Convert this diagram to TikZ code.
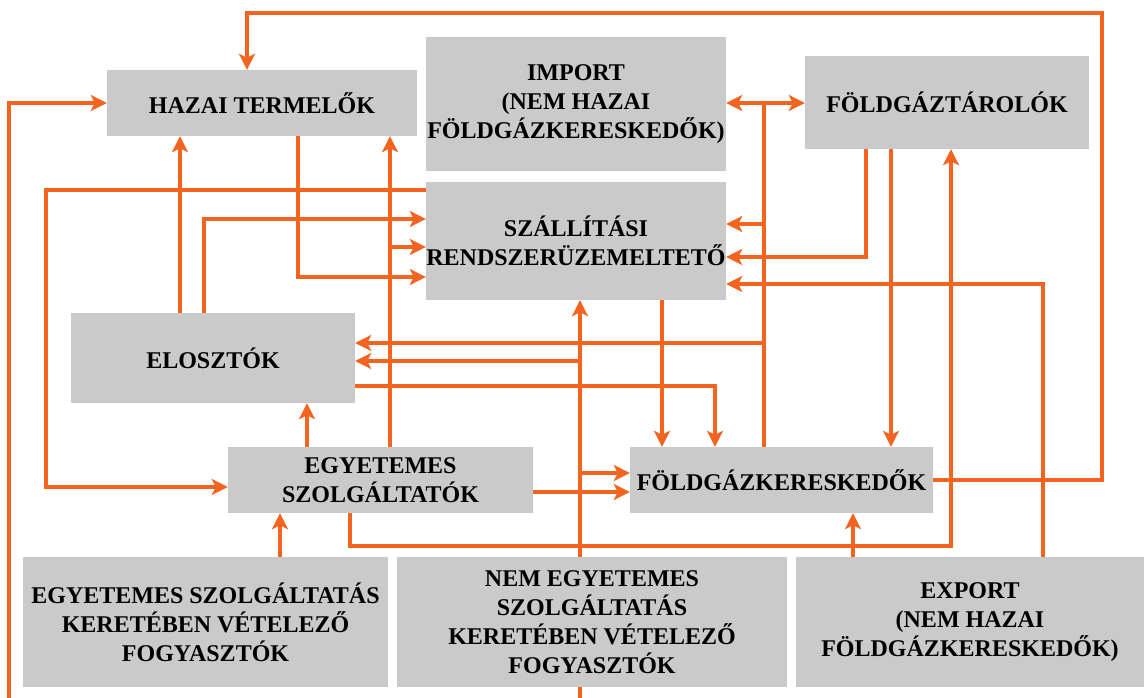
\documentclass[tikz,border=0pt]{standalone}
\usepackage{fontspec}
\setmainfont{Liberation Serif}
\usetikzlibrary{arrows.meta,backgrounds}
\definecolor{flow}{RGB}{242,100,32}
\definecolor{boxgray}{RGB}{202,202,202}
\tikzset{
  box/.style={fill=boxgray, draw=none, inner sep=0pt, align=center,
    font=\fontsize{24}{29}\selectfont\bfseries},
  conn/.style={draw=flow, line width=4pt},
  arr/.style={conn, -{Stealth[length=16pt,width=16pt,inset=4pt]}},
  darr/.style={conn, {Stealth[length=16pt,width=16pt,inset=4pt]}-{Stealth[length=16pt,width=16pt,inset=4pt]}}
}
\begin{document}
\begin{tikzpicture}[x=1pt,y=-1pt]
\useasboundingbox (0,0) rectangle (1146,698);
% boxes
\node[box, minimum width=310pt, minimum height=66pt] (hazai) at (262,103) {HAZAI TERMELŐK};
\node[box, minimum width=300pt, minimum height=134pt] (import) at (576,104) {IMPORT\\(NEM HAZAI\\FÖLDGÁZKERESKEDŐK)};
\node[box, minimum width=300pt, minimum height=118pt] (szall) at (576,241) {SZÁLLÍTÁSI\\RENDSZERÜZEMELTETŐ};
\node[box, minimum width=284pt, minimum height=93pt] (taro) at (947,102.5) {FÖLDGÁZTÁROLÓK};
\node[box, minimum width=284pt, minimum height=90pt] (elosz) at (213,358) {ELOSZTÓK};
\node[box, minimum width=305pt, minimum height=66pt] (egysz) at (380.5,480) {EGYETEMES\\SZOLGÁLTATÓK};
\node[box, minimum width=303pt, minimum height=66pt] (keresk) at (781.5,480) {FÖLDGÁZKERESKEDŐK};
\node[box, minimum width=365pt, minimum height=130pt] (fogy1) at (205.5,622) {EGYETEMES SZOLGÁLTATÁS\\KERETÉBEN VÉTELEZŐ\\FOGYASZTÓK};
\node[box, minimum width=390pt, minimum height=130pt] (fogy2) at (592,622) {NEM EGYETEMES\\SZOLGÁLTATÁS\\KERETÉBEN VÉTELEZŐ\\FOGYASZTÓK};
\node[box, minimum width=348pt, minimum height=130pt] (export) at (970,622) {EXPORT\\(NEM HAZAI\\FÖLDGÁZKERESKEDŐK)};
% columns and rows
\foreach \c in {9,46,180,204,247,280,298,307,350,390,580,662,715,764,853,866,891,951,1043,1102}
  \coordinate (c\c) at (\c,0);
\foreach \r in {13,103,190,219,224,247,257,277,284,343,361,386,473,487,492,546}
  \coordinate (r\r) at (0,\r);
\coordinate (leftfoot) at (9,698);
\coordinate (midfoot) at (580,698);
\begin{pgfonlayer}{background}
% top loop: kereskedok -> hazai termelok
\draw[arr] (keresk.east) -| (c1102 |- r13) -| (hazai.north -| c247);
% left loop into hazai termelok
\draw[arr] (leftfoot) |- (hazai.west);
% hazai -> szallitasi
\draw[arr] (hazai.south -| c298) |- (szall.west |- r277);
% elosztok -> hazai
\draw[arr] (elosz.north -| c180) -- (hazai.south -| c180);
% egyetemes szolgaltatok -> hazai, szallitasi
\draw[arr] (egysz.north -| c390) -- (hazai.south -| c390);
\draw[arr] (c390 |- r247) -- (szall.west |- r247);
% szallitasi -> egyetemes szolgaltatok
\draw[arr] (szall.west |- r190) -| (c46 |- r487) -- (egysz.west |- r487);
% elosztok -> szallitasi
\draw[arr] (elosz.north -| c204) |- (szall.west |- r219);
% kereskedok -> import / tarolok / szallitasi / elosztok
\draw[darr] (import.east |- r103) -- (taro.west |- r103);
\draw[conn] (keresk.north -| c764) -- (c764 |- r103);
\draw[arr] (c764 |- r224) -- (szall.east |- r224);
\draw[arr] (c764 |- r343) -- (elosz.east |- r343);
% tarolok -> szallitasi, kereskedok
\draw[arr] (taro.south -| c866) |- (szall.east |- r257);
\draw[arr] (taro.south -| c891) -- (keresk.north -| c891);
% egyetemes szolgaltatok -> tarolok
\draw[arr] (egysz.south -| c350) |- (c951 |- r546) -- (taro.south -| c951);
% export -> szallitasi, kereskedok
\draw[arr] (export.north -| c1043) |- (szall.east |- r284);
\draw[arr] (export.north -| c853) -- (keresk.south -| c853);
% szallitasi -> kereskedok
\draw[arr] (szall.south -| c662) -- (keresk.north -| c662);
% elosztok -> kereskedok
\draw[arr] (elosz.east |- r386) -| (keresk.north -| c715);
% middle trunk
\draw[arr] (midfoot) -- (szall.south -| c580);
\draw[arr] (c580 |- r361) -- (elosz.east |- r361);
\draw[arr] (c580 |- r473) -- (keresk.west |- r473);
% egyetemes szolgaltatok -> kereskedok
\draw[arr] (egysz.east |- r492) -- (keresk.west |- r492);
% fogyasztok -> egyetemes szolgaltatok
\draw[arr] (fogy1.north -| c280) -- (egysz.south -| c280);
% egyetemes szolgaltatok -> elosztok
\draw[arr] (egysz.north -| c307) -- (elosz.south -| c307);
\end{pgfonlayer}
\end{tikzpicture}
\end{document}
